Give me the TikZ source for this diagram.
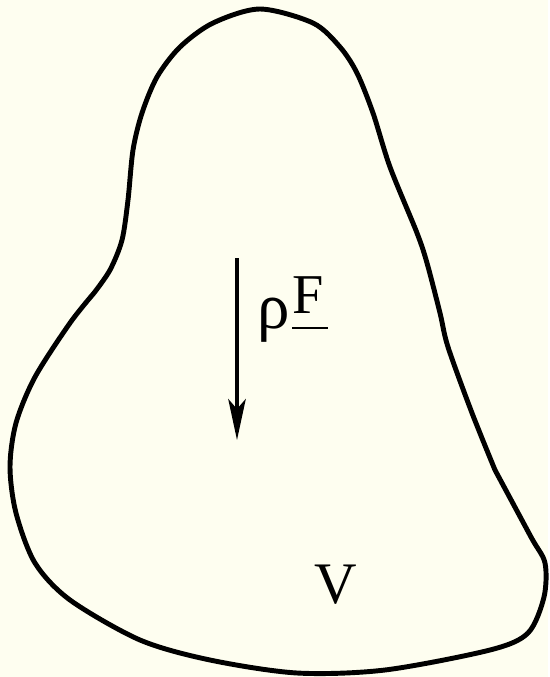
\documentclass[tikz,border=0pt]{standalone}
\usepackage{fontspec}
\setmainfont{Liberation Serif}
\usetikzlibrary{arrows.meta}
\definecolor{paper}{HTML}{FEFEF0}

\begin{document}
\begin{tikzpicture}[>={Stealth[length=8.2mm,width=3.5mm,inset=2mm]},x=0.02cm,y=-0.02cm,
  outline/.style={line width=2.8pt,line join=round},
  lbl/.style={inner sep=0pt,anchor=base west,font=\fontsize{32}{38}\selectfont}]
\fill[paper] (0,0) rectangle (548,677);
\draw[outline] plot[smooth,tension=0.5] coordinates {(94,293) (110,270) (122,240) (128,200) (133,150) (142,113) (157,77) (180,47) (213,23) (260,9) (313,23) (340,47) (357,73) (373,113) (390,167) (417,233) (427,263) (440,313) (448,347) (472,413) (495,470)}
  -- plot[smooth,tension=0.5] coordinates {(495,470) (531,537) (545,563) (544,597) (528,633) (490,650) (385,670) (297,673) (210,660) (140,640) (70,600) (35,563) (16,513) (10,467) (16,423) (35,377) (70,323) (94,293)} -- cycle;
\coordinate (ftop) at (237,258); \coordinate (fbot) at (237,440);
\draw[->,line width=2pt] (ftop)--(fbot);
\node[lbl] (rhoF) at (257,328){{\fontsize{37}{40}\selectfont ρ}\kern1.5pt\makebox[0pt][l]{\rule[-0.6pt]{20pt}{1.2pt}}\raisebox{8.5pt}{F}};
\node[lbl,font=\fontsize{33.5}{40}\selectfont] (vol) at (314,603){V};
\end{tikzpicture}
\end{document}
